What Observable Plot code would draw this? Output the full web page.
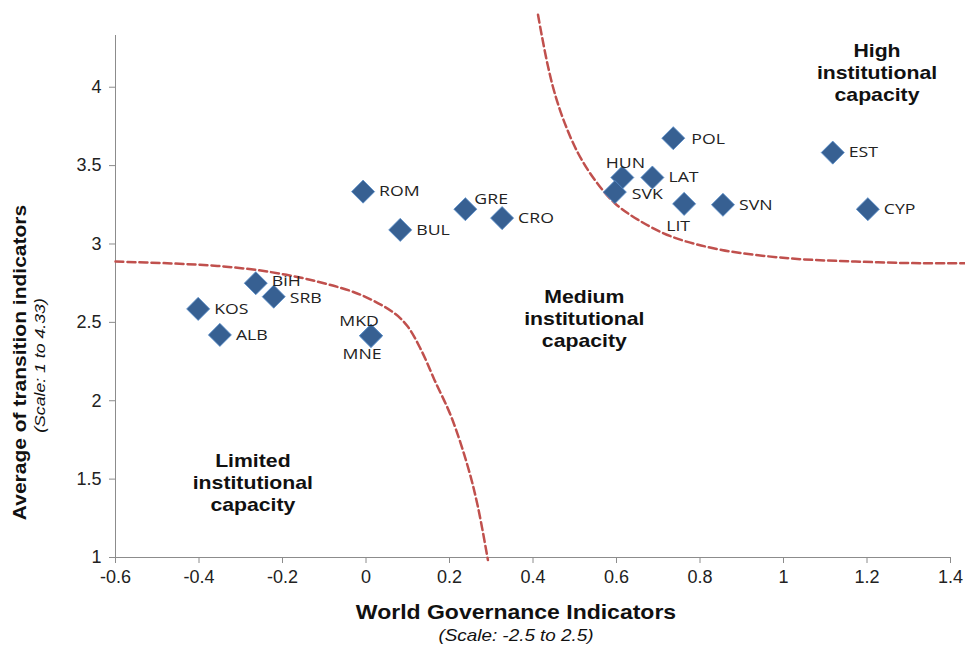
<!DOCTYPE html>
<html><head><meta charset="utf-8">
<script src="https://cdn.jsdelivr.net/npm/d3@7"></script>
<script src="https://cdn.jsdelivr.net/npm/@observablehq/plot@0.6"></script>
<style>
body{margin:0;background:#fff;}
#chart{width:965px;height:649px;overflow:hidden;}
</style></head><body><div id="chart"></div>
<script>
// ---- data ----
const countries  = ["KOS","ALB","BiH","SRB","MKD","MNE","ROM","BUL","GRE","CRO","HUN","SVK","LAT","POL","LIT","SVN","EST","CYP"];
const wgi        = [-0.402,-0.350,-0.264,-0.221,0.012,0.012,-0.007,0.082,0.238,0.326,0.614,0.596,0.686,0.736,0.762,0.855,1.118,1.202];
const transition = [2.586,2.420,2.750,2.664,2.414,2.414,3.334,3.090,3.222,3.165,3.424,3.331,3.424,3.675,3.256,3.250,3.583,3.222];

const xTicks = [-0.6,-0.4,-0.2,0,0.2,0.4,0.6,0.8,1,1.2,1.4];
const xTickLabels = ["-0.6","-0.4","-0.2","0","0.2","0.4","0.6","0.8","1","1.2","1.4"];
const yTicks = [1,1.5,2,2.5,3,3.5,4];
const yTickLabels = ["1","1.5","2","2.5","3","3.5","4"];

// boundary curves (dashed), read point by point
const limitedX = [-0.600,-0.476,-0.356,-0.236,-0.116,-0.012,0.068,0.100,0.132,0.164,0.204,0.244,0.268,0.292];
const limitedY = [2.888,2.877,2.860,2.824,2.760,2.675,2.558,2.473,2.324,2.133,1.899,1.579,1.324,0.984];
const highX = [0.412,0.420,0.436,0.452,0.476,0.508,0.548,0.596,0.652,0.732,0.852,1.012,1.172,1.332,1.440];
const highY = [4.462,4.345,4.132,3.962,3.771,3.579,3.409,3.260,3.154,3.047,2.962,2.909,2.888,2.877,2.877];

const regionNames = ["High\ninstitutional\ncapacity","Medium\ninstitutional\ncapacity","Limited\ninstitutional\ncapacity"];
const regionX = [1.224, 0.523, -0.271];
const regionY = [4.098, 2.528, 1.482];

const xTitle = "World Governance Indicators";
const xSubtitle = "(Scale: -2.5 to 2.5)";
const yTitle = "Average of transition indicators";
const ySubtitle = "(Scale: 1 to 4.33)";

// ---- build tables ----
const points = countries.map((c, i) => ({c, x: wgi[i], y: transition[i]}));
const limited = limitedX.map((x, i) => ({x, y: limitedY[i]}));
const high = highX.map((x, i) => ({x, y: highY[i]}));
const regions = regionNames.map((t, i) => ({t, x: regionX[i], y: regionY[i]}));

const special = {
  BiH: {dx: 16, dy: -1.5, textAnchor: "start"},
  SRB: {dx: 16, dy: 1.5, textAnchor: "start"},
  GRE: {dx: 9, dy: -10, textAnchor: "start"},
  MKD: {dx: -12, dy: -15, textAnchor: "middle"},
  MNE: {dx: -9, dy: 18, textAnchor: "middle"},
  HUN: {dx: 3, dy: -14, textAnchor: "middle"},
  LIT: {dx: -6, dy: 22, textAnchor: "middle"},
  SVK: {dx: 17, dy: 2, textAnchor: "start"},
  POL: {dx: 18, dy: 1, textAnchor: "start"}
};
const labelStyle = {x: "x", y: "y", text: "c", fontFamily: "Open Sans, sans-serif", fontSize: 15, fill: "#222"};
const labelMarks = [
  Plot.text(points.filter(d => !special[d.c]), {...labelStyle, dx: 16, textAnchor: "start"}),
  ...Object.entries(special).map(([k, o]) => Plot.text(points.filter(d => d.c === k), {...labelStyle, ...o}))
];

const axisGrey = "#8c8c8c";
const red = "#C0504D";

const chart = Plot.plot({
  width: 965, height: 649,
  marginLeft: 115, marginRight: 15, marginTop: 35, marginBottom: 92,
  x: {domain: [-0.6, 1.4]},
  y: {domain: [1, 4.33]},
  style: {fontFamily: "Liberation Sans, Arial, sans-serif", fontSize: "18px", color: "#222", background: "white", overflow: "visible"},
  marks: [
    Plot.ruleY([1], {stroke: axisGrey}),
    Plot.ruleX([-0.6], {y1: 1, y2: 4.33, stroke: axisGrey}),
    Plot.axisX({ticks: xTicks, tickSize: 6, tickPadding: 7, tickFormat: d => xTickLabels[xTicks.indexOf(d)], stroke: axisGrey, fill: "#222", fontSize: 18, label: null}),
    Plot.axisY({ticks: yTicks, tickSize: 6, tickPadding: 8, tickFormat: d => yTickLabels[yTicks.indexOf(d)], stroke: axisGrey, fill: "#222", fontSize: 18, label: null}),
    Plot.line(limited, {x: "x", y: "y", stroke: red, strokeWidth: 2.5, strokeDasharray: "8,4", curve: "catmull-rom"}),
    Plot.line(high, {x: "x", y: "y", stroke: red, strokeWidth: 2.5, strokeDasharray: "8,4", curve: "catmull-rom"}),
    Plot.dot(points, {x: "x", y: "y", symbol: "diamond2", r: 10.4, fill: "#376092", stroke: "#5b8fcb", strokeWidth: 0.8}),
    ...labelMarks,
    Plot.text(regions, {x: "x", y: "y", text: "t", fontWeight: "bold", fontSize: 18, lineHeight: 1.22, fill: "#111"}),
    Plot.text([xTitle], {frameAnchor: "bottom", text: d => d, textAnchor: "middle", dx: -17, dy: 61, fontWeight: "bold", fontSize: 19.5, fill: "#111"}),
    Plot.text([xSubtitle], {frameAnchor: "bottom", text: d => d, textAnchor: "middle", dx: -17, dy: 83, fontStyle: "italic", fontSize: 16, fill: "#111"}),
    Plot.text([yTitle], {frameAnchor: "left", text: d => d, textAnchor: "middle", dx: -95, dy: 66, rotate: -90, fontWeight: "bold", fontSize: 17.8, fill: "#111"}),
    Plot.text([ySubtitle], {frameAnchor: "left", text: d => d, textAnchor: "middle", dx: -75, dy: 69, rotate: -90, fontStyle: "italic", fontSize: 15, fill: "#111"})
  ]
});
document.getElementById("chart").appendChild(chart);

// the reference's lettering is drawn slightly wide: stretch those texts along their baseline
const S = 1.18;
const stretchSet = new Set([...countries, xTitle, xSubtitle, yTitle, ySubtitle, ...regionNames.map(s => s.replace(/\n/g, ""))]);
d3.select(chart).selectAll("text").each(function () {
  const el = this;
  if (!stretchSet.has(el.textContent)) return;
  const t = el.getAttribute("transform");
  if (t) {
    el.setAttribute("transform", `${t} scale(${S},1)`);
  } else {
    const x = el.getAttribute("x"), y = el.getAttribute("y");
    const nx = x !== null && /^-?[\d.]+$/.test(x) ? +x : 0;
    const ny = y !== null && /^-?[\d.]+$/.test(y) ? +y : 0;
    if (x !== null && /^-?[\d.]+$/.test(x)) el.removeAttribute("x");
    if (y !== null && /^-?[\d.]+$/.test(y)) el.removeAttribute("y");
    el.setAttribute("transform", `translate(${nx},${ny}) scale(${S},1)`);
  }
});
</script>
</body></html>
